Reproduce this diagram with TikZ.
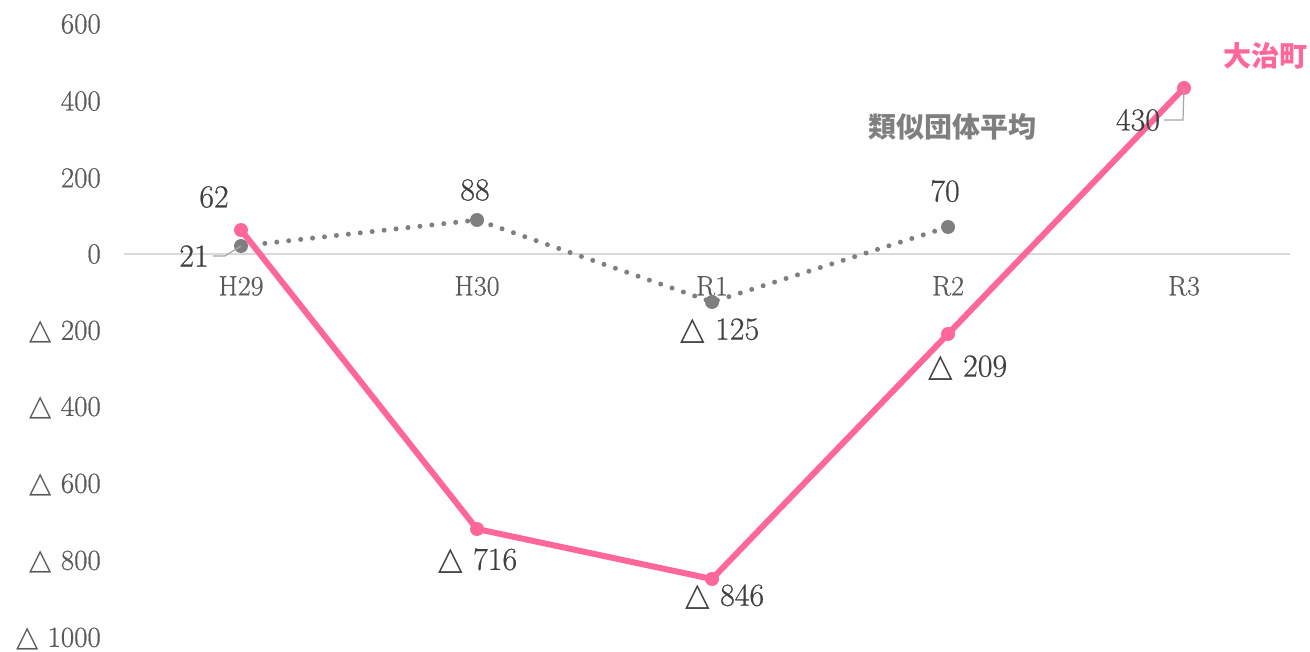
\documentclass[tikz,border=0pt]{standalone}
\usepackage{fontspec}
\usepackage{amsmath, amssymb}
\setmainfont{Latin Modern Roman}[FakeBold=0.6]
\newfontfamily\jpfont{Noto Sans CJK JP}
\newfontfamily\symfont{DejaVu Sans}
\newcommand{\tri}{{\symfont △}}
\definecolor{pinkline}{HTML}{FF6699}
\definecolor{grayline}{HTML}{7F7F7F}
\definecolor{axisgray}{HTML}{595959}
\definecolor{valgray}{HTML}{404040}
\definecolor{zerogray}{HTML}{D9D9D9}
\tikzset{
  ticklabel/.style={anchor=east, text=axisgray, font=\fontsize{29}{33}\selectfont, inner sep=0pt},
  catlabel/.style={text=axisgray, font=\fontsize{28}{32}\selectfont, inner sep=0pt},
  vallabel/.style={text=valgray, font=\fontsize{32}{36}\selectfont, inner sep=0pt},
  serieslabel/.style={font=\jpfont\bfseries\fontsize{28}{32}\selectfont, inner sep=0pt}
}
\begin{document}
\begin{tikzpicture}[x=1pt, y=-1pt]
            \useasboundingbox (0, 0) rectangle (1310, 652);
            % value axis
            \foreach \v/\yy in {600/24, 400/101, 200/178, 0/254} {
              \node[ticklabel] (tick\v) at (101, \yy) {\v};
            }
            \foreach \v/\yy in {200/332, 400/408, 600/485, 800/562, 1000/639} {
              \node[ticklabel] (tickm\v) at (101, \yy) {\tri\ \v};
            }
            \coordinate (zl) at (124, 254);
            \coordinate (zr) at (1290, 254);
            \draw[zerogray, line width=2pt] (zl) -- (zr);
            % categories
            \foreach \c/\xx in {H29/241, H30/477, R1/712, R2/948, R3/1184} {
              \node[catlabel] (cat\c) at (\xx, 286) {\c};
            }
            % similar group average
            \coordinate (g1) at (241, 246);
            \coordinate (g2) at (477, 220);
            \coordinate (g3) at (712, 302);
            \coordinate (g4) at (948, 227);
            \draw[grayline, line width=5pt, line cap=round, dash pattern=on 0pt off 12pt] (g1) -- (g2) -- (g3) -- (g4);
            \foreach \p in {g1, g2, g3, g4} { \fill[grayline] (\p) circle (7); }
            % town
            \coordinate (t1) at (241, 230);
            \coordinate (t2) at (477, 529);
            \coordinate (t3) at (712, 579);
            \coordinate (t4) at (948, 334);
            \coordinate (t5) at (1184, 88);
            \draw[pinkline, line width=6pt, line join=round] (t1) -- (t2) -- (t3) -- (t4) -- (t5);
            \foreach \p in {t1, t2, t3, t4, t5} { \fill[pinkline] (\p) circle (7); }
            % values
            \node[vallabel] (v1) at (214, 197) {62};
            \node[vallabel] (v2) at (478, 561) {\tri\ 716};
            \node[vallabel] (v3) at (725, 597) {\tri\ 846};
            \node[vallabel] (v4) at (968, 368) {\tri\ 209};
            \node[vallabel] (v5) at (1138, 120) {430};
            \node[vallabel] (w1) at (194, 256) {21};
            \node[vallabel] (w2) at (475, 190) {88};
            \node[vallabel] (w3) at (720, 331) {\tri\ 125};
            \node[vallabel] (w4) at (945, 191) {70};
            \draw[grayline!70, line width=1.2pt] (w1.east) ++(4, 0) -- ++(12, 0) -- (g1);
            \draw[grayline!70, line width=1.2pt] (v5.east) ++(4, 0) -- (1183, 120) -- (t5);
            % series names
            \node[serieslabel, text=pinkline] (nm1) at (1265, 56) {大治町};
            \node[serieslabel, text=grayline] (nm2) at (952, 127) {類似団体平均};
\end{tikzpicture}
\end{document}
